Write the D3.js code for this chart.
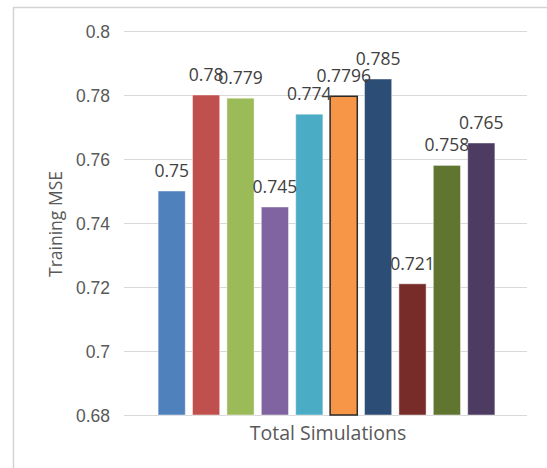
<!DOCTYPE html>
<html>
<head>
<meta charset="utf-8">
<script src="https://cdn.jsdelivr.net/npm/d3@7"></script>
<style>
  html, body { margin: 0; padding: 0; background: #fff; }
  svg { display: block; font-family: "Open Sans", "Noto Sans", sans-serif; }
</style>
</head>
<body>
<svg id="chart" width="547" height="468"></svg>
<script>
// Ten simulation runs, one bar each
const series = ["S1", "S2", "S3", "S4", "S5", "S6", "S7", "S8", "S9", "S10"];
const values = [0.75, 0.78, 0.779, 0.745, 0.774, 0.7796, 0.785, 0.721, 0.758, 0.765];
const valueLabels = ["0.75", "0.78", "0.779", "0.745", "0.774", "0.7796", "0.785", "0.721", "0.758", "0.765"];
const colors = ["#4F81BD", "#C0504D", "#9BBB59", "#8064A2", "#4BACC6",
                "#F79646", "#2C4D75", "#772C2A", "#5F7530", "#4D3B62"];
const yTicks = [0.68, 0.7, 0.72, 0.74, 0.76, 0.78, 0.8];
const yTickLabels = ["0.68", "0.7", "0.72", "0.74", "0.76", "0.78", "0.8"];
const xTitle = "Total Simulations";
const yTitle = "Training MSE";

const svg = d3.select("#chart");

// Plot area
const plot = { left: 124, right: 527, top: 31, bottom: 415 };

const y = d3.scaleLinear().domain([0.68, 0.8]).range([plot.bottom, plot.top]);
const x = d3.scaleBand()
  .domain(series)
  .range([154.5, 498.5])
  .paddingInner(0.21)
  .paddingOuter(0.105);

// Outer frame (left and top edges)
svg.append("line")
  .attr("x1", 13.5).attr("x2", 13.5).attr("y1", 7).attr("y2", 468)
  .attr("stroke", "#d4d4d4").attr("stroke-width", 1.5);
svg.append("line")
  .attr("x1", 13).attr("x2", 547).attr("y1", 7.5).attr("y2", 7.5)
  .attr("stroke", "#d4d4d4").attr("stroke-width", 1.5);

// Horizontal gridlines with tick labels
const yAxis = d3.axisLeft(y)
  .tickValues(yTicks)
  .tickSize(-(plot.right - plot.left))
  .tickPadding(14)
  .tickFormat((d, i) => yTickLabels[i]);

const gy = svg.append("g")
  .attr("transform", `translate(${plot.left},0)`)
  .call(yAxis);
gy.select(".domain").remove();
gy.selectAll(".tick line").attr("stroke", "#d9d9d9").attr("stroke-width", 1.2);
gy.selectAll(".tick text")
  .attr("fill", "#595959")
  .attr("font-size", "17.5px")
  .attr("dy", "0.36em");

// Bars
svg.append("g").selectAll("rect")
  .data(series)
  .join("rect")
  .attr("x", d => x(d))
  .attr("width", x.bandwidth())
  .attr("y", (d, i) => y(values[i]))
  .attr("height", (d, i) => y(0.68) - y(values[i]))
  .attr("fill", (d, i) => colors[i])
  .attr("stroke", (d, i) => i === 5 ? "#2a2a2a" : "rgba(255,255,255,0.45)")
  .attr("stroke-width", (d, i) => i === 5 ? 1.5 : 1);

// Value labels above bars
svg.append("g").selectAll("text")
  .data(series)
  .join("text")
  .attr("x", d => x(d) + x.bandwidth() / 2)
  .attr("y", (d, i) => y(values[i]) - 14)
  .attr("text-anchor", "middle")
  .attr("fill", "#404040")
  .attr("font-size", "17.5px")
  .text((d, i) => valueLabels[i]);

// Axis titles
svg.append("text")
  .attr("x", 328).attr("y", 440)
  .attr("text-anchor", "middle")
  .attr("fill", "#595959")
  .attr("font-size", "19.5px")
  .text(xTitle);

svg.append("text")
  .attr("transform", `translate(61.5,224) rotate(-90)`)
  .attr("text-anchor", "middle")
  .attr("fill", "#595959")
  .attr("font-size", "17.5px")
  .text(yTitle);
</script>
</body>
</html>
